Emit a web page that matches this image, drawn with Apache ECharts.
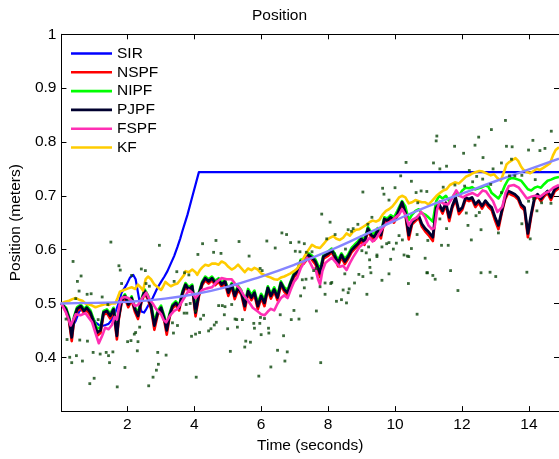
<!DOCTYPE html>
<html><head><meta charset="utf-8">
<script src="https://cdn.jsdelivr.net/npm/echarts@6/dist/echarts.min.js"></script>
<style>html,body{margin:0;padding:0;background:#fff}#c{width:559px;height:459px}</style>
</head><body><div id="c"></div>
<script>
// ---------- data ----------
const xTicks = [2, 4, 6, 8, 10, 12, 14];
const yTicks = [0.4, 0.5, 0.6, 0.7, 0.8, 0.9, 1];
const seriesNames = ['SIR', 'NSPF', 'NIPF', 'PJPF', 'FSPF', 'KF'];

// shared time base for NSPF / NIPF / PJPF
const tF = [
 0.03,0.17,0.26,0.34,0.41,0.50,0.61,0.71,0.79,0.90,
 1.00,1.10,1.20,1.29,1.39,1.49,1.59,1.69,1.74,1.83,
 1.93,2.03,2.13,2.23,2.32,2.42,2.52,2.62,2.71,2.81,
 2.91,3.01,3.11,3.18,3.26,3.35,3.45,3.55,3.65,3.74,
 3.84,3.94,4.04,4.14,4.24,4.33,4.43,4.53,4.63,4.73,
 4.82,4.92,5.02,5.12,5.21,5.31,5.41,5.51,5.61,5.71,
 5.80,5.90,6.00,6.10,6.20,6.29,6.39,6.49,6.59,6.69,
 6.79,6.88,6.98,7.08,7.18,7.27,7.42,7.52,7.62,7.76,
 7.86,8.01,8.11,8.21,8.30,8.40,8.50,8.60,8.70,8.79,
 8.89,8.99,9.09,9.19,9.29,9.38,9.48,9.58,9.68,9.77,
 9.87,9.97,10.07,10.21,10.31,10.41,10.51,10.61,10.71,10.80,
 10.90,11.00,11.13,11.23,11.32,11.42,11.52,11.62,11.71,11.81,
 11.91,12.01,12.11,12.21,12.30,12.40,12.50,12.60,12.70,12.79,
 12.89,12.99,13.09,13.19,13.29,13.38,13.48,13.58,13.68,13.77,
 13.87,13.97,14.07,14.17,14.26,14.36,14.46,14.56,14.66,14.77,
 14.90];
const vPJPF = [
 0.500,0.489,0.472,0.437,0.472,0.490,0.495,0.486,0.492,0.483,
 0.465,0.446,0.450,0.483,0.486,0.477,0.489,0.440,0.472,0.505,
 0.514,0.498,0.510,0.489,0.477,0.505,0.523,0.511,0.495,0.459,
 0.483,0.492,0.471,0.450,0.477,0.495,0.501,0.492,0.520,0.535,
 0.526,0.532,0.483,0.517,0.538,0.547,0.541,0.547,0.538,0.544,
 0.535,0.541,0.520,0.535,0.514,0.529,0.520,0.495,0.523,0.511,
 0.520,0.495,0.514,0.501,0.529,0.514,0.526,0.511,0.538,0.526,
 0.520,0.538,0.553,0.559,0.578,0.578,0.590,0.585,0.578,0.556,
 0.587,0.593,0.599,0.587,0.575,0.590,0.578,0.587,0.599,0.605,
 0.611,0.620,0.614,0.639,0.627,0.623,0.636,0.627,0.657,0.654,
 0.660,0.654,0.666,0.688,0.669,0.627,0.651,0.657,0.663,0.648,
 0.639,0.633,0.623,0.678,0.684,0.672,0.687,0.660,0.681,0.697,
 0.672,0.678,0.697,0.694,0.697,0.684,0.691,0.681,0.691,0.684,
 0.678,0.660,0.645,0.672,0.697,0.709,0.706,0.703,0.697,0.684,
 0.678,0.630,0.666,0.697,0.703,0.694,0.703,0.709,0.697,0.712,
 0.718];
const vNSPF = [
 0.500,0.485,0.467,0.430,0.468,0.486,0.491,0.482,0.488,0.478,
 0.460,0.440,0.445,0.479,0.482,0.472,0.485,0.433,0.468,0.501,
 0.510,0.493,0.506,0.484,0.471,0.501,0.519,0.507,0.490,0.451,
 0.479,0.488,0.466,0.442,0.473,0.491,0.497,0.487,0.516,0.531,
 0.522,0.528,0.476,0.513,0.534,0.543,0.537,0.543,0.534,0.540,
 0.531,0.537,0.514,0.531,0.508,0.525,0.516,0.488,0.519,0.506,
 0.516,0.489,0.510,0.495,0.525,0.509,0.522,0.506,0.534,0.522,
 0.515,0.534,0.549,0.555,0.574,0.574,0.586,0.581,0.573,0.549,
 0.583,0.589,0.595,0.582,0.569,0.586,0.573,0.583,0.595,0.601,
 0.607,0.616,0.609,0.635,0.622,0.617,0.632,0.621,0.653,0.650,
 0.656,0.650,0.662,0.684,0.664,0.619,0.647,0.653,0.659,0.643,
 0.634,0.627,0.616,0.674,0.680,0.667,0.683,0.653,0.677,0.693,
 0.666,0.674,0.693,0.690,0.693,0.679,0.687,0.676,0.687,0.679,
 0.673,0.654,0.638,0.668,0.693,0.705,0.702,0.699,0.693,0.679,
 0.673,0.623,0.662,0.693,0.699,0.690,0.699,0.705,0.692,0.708,
 0.714];
const vNIPF = [
 0.500,0.492,0.476,0.445,0.476,0.493,0.498,0.490,0.495,0.487,
 0.470,0.453,0.456,0.486,0.489,0.481,0.492,0.448,0.476,0.508,
 0.517,0.502,0.513,0.493,0.482,0.508,0.526,0.515,0.499,0.466,
 0.487,0.496,0.476,0.457,0.481,0.498,0.504,0.496,0.523,0.538,
 0.530,0.535,0.490,0.521,0.541,0.550,0.545,0.550,0.542,0.547,
 0.539,0.544,0.525,0.538,0.519,0.533,0.524,0.501,0.527,0.516,
 0.524,0.501,0.518,0.507,0.532,0.518,0.530,0.516,0.541,0.530,
 0.525,0.541,0.556,0.562,0.581,0.582,0.593,0.589,0.582,0.563,
 0.590,0.597,0.602,0.591,0.581,0.593,0.583,0.591,0.603,0.609,
 0.615,0.624,0.619,0.642,0.632,0.629,0.640,0.632,0.660,0.658,
 0.664,0.660,0.672,0.690,0.680,0.655,0.665,0.672,0.675,0.668,
 0.665,0.660,0.652,0.690,0.700,0.695,0.700,0.690,0.697,0.705,
 0.700,0.710,0.715,0.714,0.716,0.712,0.714,0.716,0.719,0.717,
 0.705,0.700,0.695,0.705,0.720,0.730,0.733,0.732,0.730,0.728,
 0.720,0.712,0.710,0.715,0.717,0.715,0.722,0.728,0.730,0.733,
 0.735];

const tFSPF = [0.03,0.17,0.31,0.46,0.60,0.75,0.95,1.05,1.15,1.25,1.34,1.44,1.54,1.62,1.69,1.76,1.83,1.93,2.03,2.13,
 2.23,2.32,2.45,2.57,2.66,2.76,2.86,3.01,3.08,3.16,3.28,3.40,3.50,3.60,3.70,3.84,3.94,4.04,4.14,4.24,
 4.38,4.53,4.67,4.82,4.97,5.12,5.24,5.36,5.48,5.61,5.75,5.90,6.00,6.10,6.20,6.29,6.39,6.49,6.59,6.69,
 6.79,6.88,6.98,7.08,7.18,7.27,7.37,7.47,7.55,7.62,7.70,7.76,7.83,7.92,8.01,8.11,8.25,8.35,8.45,8.55,
 8.65,8.74,8.84,8.94,9.04,9.14,9.24,9.33,9.43,9.53,9.63,9.73,9.87,10.02,10.12,10.21,10.31,10.41,10.51,10.66,
 10.78,10.90,11.00,11.10,11.18,11.26,11.34,11.46,11.59,11.70,11.83,11.93,12.03,12.17,12.32,12.47,12.62,12.72,12.81,12.93,
 13.06,13.14,13.21,13.30,13.40,13.55,13.70,13.82,13.94,14.06,14.19,14.33,14.48,14.60,14.73,14.90];
const vFSPF = [0.500,0.483,0.459,0.480,0.478,0.482,0.465,0.445,0.426,0.440,0.455,0.452,0.460,0.475,0.470,0.495,0.510,0.512,0.510,0.505,
 0.495,0.497,0.510,0.520,0.508,0.500,0.490,0.480,0.470,0.465,0.478,0.486,0.490,0.500,0.510,0.525,0.520,0.510,0.518,0.525,
 0.528,0.530,0.540,0.547,0.545,0.545,0.535,0.528,0.515,0.505,0.492,0.485,0.480,0.478,0.485,0.490,0.487,0.500,0.510,0.515,
 0.510,0.525,0.540,0.548,0.565,0.575,0.585,0.575,0.565,0.565,0.545,0.535,0.560,0.575,0.580,0.585,0.575,0.568,0.570,0.562,
 0.575,0.585,0.595,0.605,0.610,0.614,0.622,0.615,0.620,0.630,0.640,0.648,0.652,0.660,0.665,0.675,0.665,0.645,0.655,0.660,
 0.670,0.660,0.645,0.638,0.640,0.675,0.690,0.685,0.684,0.695,0.710,0.700,0.697,0.702,0.705,0.700,0.710,0.708,0.700,0.690,
 0.670,0.675,0.680,0.705,0.718,0.720,0.715,0.705,0.695,0.698,0.700,0.698,0.705,0.708,0.715,0.720];

const tKF = [0.03,0.15,0.26,0.36,0.46,0.56,0.66,0.75,0.85,0.95,1.05,1.15,1.25,1.35,1.44,1.54,1.64,1.71,1.78,1.90,
 2.03,2.13,2.23,2.32,2.40,2.47,2.55,2.62,2.71,2.81,2.91,3.01,3.06,3.14,3.21,3.30,3.40,3.50,3.60,3.70,
 3.74,3.84,3.94,4.04,4.09,4.17,4.24,4.33,4.43,4.53,4.63,4.73,4.82,4.92,5.02,5.12,5.21,5.31,5.41,5.51,
 5.61,5.71,5.80,5.90,6.00,6.10,6.20,6.29,6.39,6.49,6.59,6.69,6.79,6.88,6.98,7.08,7.15,7.23,7.32,7.42,
 7.52,7.62,7.76,7.86,7.96,8.06,8.16,8.25,8.35,8.45,8.55,8.65,8.74,8.84,8.94,9.04,9.14,9.24,9.33,9.43,
 9.53,9.63,9.73,9.82,9.92,10.02,10.12,10.21,10.31,10.41,10.51,10.61,10.71,10.80,10.90,11.00,11.10,11.24,11.34,11.44,
 11.54,11.64,11.79,11.91,12.03,12.13,12.22,12.32,12.42,12.52,12.62,12.72,12.86,12.96,13.06,13.16,13.26,13.33,13.40,13.50,
 13.60,13.68,13.76,13.84,13.94,14.04,14.14,14.24,14.33,14.43,14.53,14.63,14.72,14.80,14.90];
const vKF = [0.500,0.503,0.505,0.508,0.510,0.507,0.505,0.500,0.498,0.496,0.493,0.495,0.497,0.499,0.497,0.500,0.500,0.510,0.522,0.525,
 0.528,0.530,0.527,0.535,0.530,0.524,0.545,0.550,0.545,0.535,0.530,0.525,0.530,0.540,0.536,0.532,0.535,0.537,0.545,0.553,
 0.560,0.558,0.563,0.558,0.553,0.562,0.567,0.572,0.570,0.574,0.574,0.572,0.578,0.575,0.568,0.563,0.566,0.572,0.565,0.558,
 0.565,0.562,0.566,0.563,0.556,0.553,0.550,0.548,0.545,0.544,0.548,0.550,0.553,0.556,0.560,0.565,0.572,0.580,0.590,0.600,
 0.609,0.605,0.603,0.610,0.618,0.622,0.625,0.620,0.618,0.622,0.630,0.626,0.633,0.637,0.638,0.642,0.646,0.651,0.654,0.652,
 0.655,0.665,0.672,0.675,0.680,0.688,0.697,0.700,0.697,0.686,0.688,0.692,0.690,0.688,0.688,0.684,0.690,0.700,0.705,0.710,
 0.712,0.720,0.725,0.723,0.730,0.736,0.738,0.742,0.744,0.746,0.745,0.742,0.738,0.740,0.733,0.728,0.745,0.758,0.762,0.766,
 0.770,0.765,0.755,0.748,0.744,0.742,0.746,0.750,0.748,0.752,0.756,0.760,0.775,0.785,0.790];

const tSIR = [0.03,0.17,0.26,0.34,0.46,0.56,0.66,0.75,0.85,0.95,1.05,1.15,1.25,1.35,1.44,1.54,1.64,1.74,1.83,1.98,
 2.08,2.18,2.25,2.32,2.42,2.50,2.57,2.66,2.76,2.91,3.01,3.11,3.20,3.30,3.40,3.50,3.58,3.65,3.80,3.95,4.14,14.90];
const vSIR = [0.500,0.489,0.472,0.455,0.468,0.485,0.490,0.487,0.485,0.475,0.465,0.460,0.458,0.460,0.462,0.470,0.483,0.500,0.520,0.535,
 0.548,0.553,0.545,0.520,0.485,0.483,0.490,0.500,0.510,0.530,0.540,0.550,0.560,0.574,0.588,0.605,0.620,0.635,0.665,0.700,0.744,0.744];

const tTrue = [0, 1, 2, 3, 4, 5, 6, 7, 8, 9, 10, 11, 12, 13, 14, 14.9];
const vTrue = [0.500,0.501,0.503,0.508,0.517,0.531,0.550,0.572,0.597,0.625,0.654,0.681,0.704,0.727,0.749,0.769];

const tMeas = [1.51,2.96,0.38,0.62,0.51,1.75,1.79,2.42,2.54,3.48,3.71,2.13,1.83,0.56,0.46,0.80,0.92,1.25,2.56,2.66,
 3.40,0.17,0.20,0.58,0.81,1.13,1.42,2.37,2.25,2.21,2.11,2.01,2.32,3.50,3.38,3.35,3.70,0.98,1.19,1.37,
 1.44,1.57,1.47,0.66,0.34,0.28,0.48,2.30,2.91,3.16,2.93,2.87,2.77,2.64,1.93,1.70,1.01,0.88,0.03,4.06,
 4.25,4.65,5.34,6.17,6.42,4.58,4.11,6.62,6.76,6.88,7.02,4.80,5.64,5.97,6.03,7.35,3.84,3.76,3.88,3.78,
 4.73,4.84,4.92,5.12,4.90,4.28,4.19,4.04,5.22,5.27,5.44,5.78,5.96,5.80,5.98,6.10,6.22,6.00,6.23,6.57,
 6.98,7.13,6.90,4.66,4.60,4.50,4.43,4.16,4.04,3.92,5.00,5.29,5.54,5.68,5.51,5.08,6.49,6.78,6.71,6.29,
 5.93,10.33,10.17,10.49,9.63,9.67,9.04,10.00,10.63,10.78,10.95,9.82,10.68,7.81,8.06,9.31,8.89,9.19,8.75,8.60,
 8.70,8.21,7.96,7.29,10.12,9.95,10.66,9.82,10.98,9.14,9.01,9.21,9.46,8.52,8.19,10.37,10.41,10.27,9.61,9.75,
 7.52,7.65,7.52,7.23,7.34,7.91,8.08,7.76,8.79,9.28,9.25,9.04,8.92,8.63,8.45,8.25,8.40,8.55,9.82,9.61,
 10.40,10.95,7.65,10.66,7.78,13.30,12.88,11.25,11.23,12.50,12.39,11.78,12.05,12.63,13.33,13.50,14.12,13.99,14.33,14.48,
 14.67,11.15,11.34,11.54,13.18,13.48,12.22,12.44,12.93,13.79,13.42,13.58,14.19,11.44,11.79,12.08,12.32,12.62,12.86,13.18,
 13.99,14.14,14.38,14.66,12.52,12.42,12.13,11.34,11.54,11.39,11.59,12.18,12.57,13.09,14.24,13.79,14.04,12.28,10.90,10.97,
 11.13,11.20,11.66,12.57,12.84,13.01,13.94,7.13,7.16,6.67,11.88,10.49,9.87,10.04,10.22,9.24,9.46,8.60,9.16,7.57,
 7.29,7.18,7.91,8.11,8.50];
const vMeas = [0.614,0.608,0.578,0.551,0.541,0.570,0.562,0.564,0.561,0.559,0.557,0.552,0.537,0.523,0.509,0.517,0.518,0.512,0.537,0.532,
 0.541,0.471,0.433,0.432,0.430,0.470,0.498,0.456,0.446,0.443,0.431,0.429,0.429,0.459,0.445,0.464,0.482,0.409,0.406,0.409,
 0.403,0.410,0.390,0.393,0.390,0.400,0.403,0.412,0.409,0.404,0.387,0.376,0.363,0.347,0.381,0.345,0.361,0.351,0.315,0.363,
 0.611,0.617,0.615,0.616,0.603,0.595,0.591,0.631,0.628,0.613,0.597,0.593,0.588,0.565,0.561,0.595,0.553,0.498,0.500,0.482,
 0.496,0.496,0.494,0.498,0.479,0.478,0.471,0.486,0.471,0.470,0.470,0.463,0.463,0.454,0.474,0.472,0.454,0.442,0.445,0.479,
 0.487,0.471,0.470,0.465,0.460,0.453,0.449,0.446,0.443,0.439,0.453,0.456,0.430,0.428,0.419,0.411,0.413,0.410,0.393,0.382,
 0.365,0.762,0.737,0.727,0.714,0.703,0.707,0.715,0.706,0.709,0.708,0.692,0.687,0.666,0.651,0.660,0.647,0.647,0.639,0.637,
 0.634,0.628,0.620,0.611,0.626,0.601,0.628,0.613,0.617,0.594,0.598,0.605,0.590,0.601,0.592,0.588,0.587,0.590,0.605,0.611,
 0.596,0.565,0.547,0.544,0.545,0.538,0.537,0.531,0.538,0.557,0.567,0.550,0.554,0.527,0.525,0.504,0.507,0.501,0.555,0.543,
 0.537,0.557,0.486,0.480,0.390,0.840,0.823,0.811,0.802,0.809,0.794,0.792,0.779,0.771,0.792,0.791,0.803,0.785,0.784,0.788,
 0.820,0.761,0.750,0.755,0.761,0.768,0.747,0.736,0.750,0.738,0.737,0.737,0.730,0.716,0.720,0.718,0.726,0.731,0.721,0.706,
 0.690,0.695,0.687,0.686,0.669,0.663,0.668,0.657,0.639,0.608,0.608,0.645,0.637,0.631,0.672,0.648,0.620,0.618,0.584,0.557,
 0.552,0.545,0.561,0.557,0.558,0.550,0.558,0.614,0.596,0.440,0.524,0.602,0.582,0.612,0.618,0.581,0.587,0.520,0.517,0.561,
 0.529,0.514,0.517,0.539,0.555];

// ---------- chart ----------
const zip = (t, v) => t.map((x, i) => [x, v[i]]);
const FONT = '"Liberation Sans", Arial, Helvetica, sans-serif';
const FS = 15.5;
const X0 = 0.033, X1 = 14.9;
const PXU = 34; // px per second (layout only)

const chart = echarts.init(document.getElementById('c'), null, {renderer: 'canvas'});

function lineSeries(name, data, color, width) {
  return {
    name, type: 'line', data, showSymbol: false, symbol: 'none',
    lineStyle: {color, width, join: 'round'}, itemStyle: {color},
    animation: false, silent: true, z: 2
  };
}

const axisCommon = {
  axisLine: {show: true, onZero: false, lineStyle: {color: '#000', width: 1}},
  splitLine: {show: false}
};

chart.setOption({
  backgroundColor: '#fff',
  animation: false,
  textStyle: {fontFamily: FONT},
  title: {
    text: 'Position', left: 'center', top: 8, padding: 0,
    textStyle: {fontFamily: FONT, fontSize: FS, fontWeight: 'normal', color: '#000'}
  },
  grid: {left: 57.1, top: 34.3, width: (X1 - X0) * PXU, height: 382.4, containLabel: false},
  legend: {
    data: seriesNames, orient: 'vertical', left: 71, top: 45.5, padding: 0,
    icon: 'rect', itemWidth: 41, itemHeight: 2.6, itemGap: 2.8,
    textStyle: {fontFamily: FONT, fontSize: FS, color: '#000'},
    selectedMode: false
  },
  xAxis: [
    Object.assign({}, axisCommon, {
      type: 'value', min: X0, max: X1, position: 'bottom',
      name: 'Time (seconds)', nameLocation: 'middle', nameGap: 20,
      nameTextStyle: {fontFamily: FONT, fontSize: FS, color: '#000'},
      axisTick: {show: true, inside: true, length: 5, customValues: xTicks, lineStyle: {color: '#000'}},
      axisLabel: {show: true, customValues: xTicks, margin: 6, color: '#000', fontFamily: FONT, fontSize: FS,
        formatter: v => String(v)}
    }),
    Object.assign({}, axisCommon, {
      type: 'value', min: X0, max: X1, position: 'top',
      axisTick: {show: true, inside: true, length: 5, customValues: xTicks, lineStyle: {color: '#000'}},
      axisLabel: {show: false}
    })
  ],
  yAxis: [
    Object.assign({}, axisCommon, {
      type: 'value', min: 0.3, max: 1, position: 'left',
      name: 'Position (meters)', nameLocation: 'middle', nameGap: 34, nameRotate: 90,
      nameTextStyle: {fontFamily: FONT, fontSize: FS, color: '#000'},
      axisTick: {show: true, inside: true, length: 5, customValues: yTicks, lineStyle: {color: '#000'}},
      axisLabel: {show: true, customValues: yTicks, margin: 5, color: '#000', fontFamily: FONT, fontSize: FS,
        formatter: v => String(+(+v).toFixed(1))}
    }),
    Object.assign({}, axisCommon, {
      type: 'value', min: 0.3, max: 1, position: 'right',
      axisTick: {show: true, inside: true, length: 5, customValues: yTicks, lineStyle: {color: '#000'}},
      axisLabel: {show: false}
    })
  ],
  series: [
    lineSeries('SIR', zip(tSIR, vSIR), '#0000ff', 2.2),
    lineSeries('NSPF', zip(tF, vNSPF), '#ff0000', 2.6),
    lineSeries('NIPF', zip(tF, vNIPF), '#00ff00', 2.6),
    lineSeries('PJPF', zip(tF, vPJPF), '#00002e', 2.8),
    lineSeries('FSPF', zip(tFSPF, vFSPF), '#ff2fb4', 2.6),
    lineSeries('KF', zip(tKF, vKF), '#ffcc00', 2.6),
    Object.assign(lineSeries('truth', zip(tTrue, vTrue), '#8585ff', 2.4), {smooth: 0.5}),
    {
      name: 'meas', type: 'scatter', data: zip(tMeas, vMeas), symbol: 'rect', symbolSize: 2.8,
      itemStyle: {color: '#0a460a'}, animation: false, silent: true, z: 3
    }
  ]
});
</script></body></html>
